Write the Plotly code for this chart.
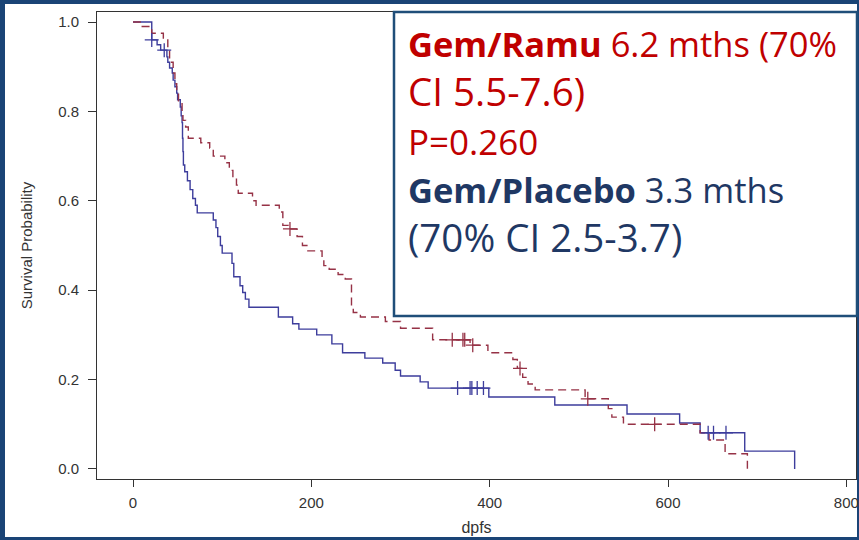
import plotly.graph_objects as go

# ---- data ----
placebo_time = [0, 21, 27, 31, 38, 39, 41, 44, 45, 47, 49, 50, 53, 54, 55, 55.5, 56, 56.5, 58, 61, 64, 67, 70, 72,
                90, 93, 95, 98, 100, 111, 113, 120, 123, 126, 130, 163, 179, 186, 206, 223, 235, 260, 280, 294,
                300, 322, 331, 399, 473, 554, 613, 636, 686, 742]
placebo_surv = [1.0, 0.96, 0.949, 0.937, 0.922, 0.91, 0.897, 0.886, 0.87, 0.855, 0.841, 0.826, 0.81, 0.79, 0.775,
                0.74, 0.71, 0.68, 0.665, 0.645, 0.625, 0.605, 0.59, 0.573, 0.557, 0.54, 0.52, 0.50, 0.483, 0.46,
                0.43, 0.41, 0.395, 0.38, 0.362, 0.34, 0.325, 0.313, 0.30, 0.28, 0.26, 0.248, 0.237, 0.221, 0.208,
                0.195, 0.181, 0.161, 0.143, 0.123, 0.103, 0.081, 0.040, 0.0]
placebo_cens_time = [21, 35, 364, 378, 380, 386, 393, 645, 651, 665]
placebo_cens_surv = [0.96, 0.937, 0.181, 0.181, 0.181, 0.181, 0.181, 0.081, 0.081, 0.081]

ramu_time = [0, 8, 21, 34, 39, 41, 45, 47, 49, 51, 55, 56, 59, 62, 76, 86, 90, 103, 108, 112, 116, 118, 134, 138,
             164, 168, 174, 184, 190, 195, 212, 214, 220, 230, 238, 245, 247, 255, 283, 300, 336, 378, 398, 426,
             431, 437, 443, 451, 507, 533, 537, 550, 636, 646, 664, 689]
ramu_surv = [1.0, 0.99, 0.975, 0.962, 0.937, 0.91, 0.886, 0.862, 0.84, 0.82, 0.80, 0.78, 0.765, 0.74, 0.73, 0.718,
             0.70, 0.685, 0.668, 0.65, 0.635, 0.617, 0.60, 0.59, 0.575, 0.545, 0.537, 0.52, 0.50, 0.488, 0.47,
             0.455, 0.447, 0.435, 0.425, 0.362, 0.35, 0.34, 0.33, 0.315, 0.289, 0.277, 0.26, 0.245, 0.225, 0.205,
             0.19, 0.177, 0.157, 0.135, 0.116, 0.10, 0.081, 0.065, 0.034, 0.0]
ramu_cens_time = [176, 358, 370, 372, 381, 434, 510, 585]
ramu_cens_surv = [0.537, 0.289, 0.289, 0.289, 0.277, 0.225, 0.157, 0.10]

x_ticks = [0, 200, 400, 600, 800]
y_ticks = [0.0, 0.2, 0.4, 0.6, 0.8, 1.0]

text_lines = [
    ("<b>Gem/Ramu</b> 6.2 mths (70%", "#c00000", 34.5),
    ("CI 5.5-7.6)", "#c00000", 38.5),
    ("P=0.260", "#c00000", 35),
    ("<b>Gem/Placebo</b> 3.3 mths", "#1f3864", 34.5),
    ("(70% CI 2.5-3.7)", "#1f3864", 38.5),
]

# ---- figure ----
W, H = 859, 540
L, R, T, B = 97, 3, 12, 61
pw, ph = W - L - R, H - T - B

def px_x(p):
    return (p - L) / pw

def px_y(q):
    return (H - B - q) / ph

RED = "#963246"
BLUE = "#3d3d9c"
FRAME = "#1a4476"

fig = go.Figure()
fig.add_trace(go.Scatter(x=placebo_time, y=placebo_surv, mode="lines", line_shape="hv",
                         line=dict(color=BLUE, width=1.4), name="Gem/Placebo", showlegend=False))
fig.add_trace(go.Scatter(x=ramu_time, y=ramu_surv, mode="lines", line_shape="hv",
                         line=dict(color=RED, width=1.4, dash="8px,5px"), name="Gem/Ramu", showlegend=False))
fig.add_trace(go.Scatter(x=placebo_cens_time, y=placebo_cens_surv, mode="markers",
                         marker=dict(symbol="cross-thin", size=10, line=dict(width=1.3, color=BLUE)),
                         showlegend=False))
fig.add_trace(go.Scatter(x=ramu_cens_time, y=ramu_cens_surv, mode="markers",
                         marker=dict(symbol="cross-thin", size=10, line=dict(width=1.3, color=RED)),
                         showlegend=False))

tickfont = dict(family="Liberation Sans, Arial, sans-serif", size=15, color="#333333")

fig.update_layout(
    width=W, height=H,
    margin=dict(l=L, r=R, t=T, b=B, autoexpand=False),
    paper_bgcolor=FRAME,
    plot_bgcolor="white",
    showlegend=False,
    xaxis=dict(range=[-40.4, 810.8], tickvals=x_ticks, ticks="outside", ticklen=7, tickcolor="#333",
               showline=True, linecolor="#333", linewidth=1, mirror=True, showgrid=False, zeroline=False,
               tickfont=tickfont, ticklabelstandoff=3,
               title=dict(text="dpfs", font=dict(family="Liberation Sans, Arial, sans-serif", size=16,
                                                   color="#333333"), standoff=11)),
    yaxis=dict(range=[-0.0224, 1.0224], tickvals=y_ticks, tickformat=".1f", ticks="outside", ticklen=8,
               tickcolor="#333", showline=True, linecolor="#333", linewidth=1, mirror=True, showgrid=False,
               zeroline=False, tickfont=tickfont, ticklabelstandoff=6,
               title=dict(text="Survival Probability",
                          font=dict(family="Liberation Sans, Arial, sans-serif", size=15, color="#333333"),
                          standoff=21)),
)

# white interior inside the dark blue frame
fig.add_shape(type="rect", xref="paper", yref="paper", layer="below",
              x0=px_x(5), x1=px_x(857), y0=px_y(537), y1=px_y(4),
              fillcolor="white", line=dict(width=0))
# text box
fig.add_shape(type="rect", xref="paper", yref="paper", layer="above",
              x0=px_x(394), x1=px_x(857), y0=px_y(316), y1=px_y(12),
              fillcolor="white", line=dict(width=2.5, color="#1f4e79"))

# one multi-line annotation; per-line size & colour via spans
box_text = "<br>".join(
    f'<span style="font-size:{size}px;color:{col}">{txt}</span>' for txt, col, size in text_lines
)
fig.add_annotation(xref="paper", yref="paper", x=px_x(406), y=px_y(141), xanchor="left", yanchor="middle",
                   text=box_text, showarrow=False, align="left",
                   font=dict(family="Open Sans, sans-serif", size=37.5, color="#c00000"))

fig.write_html("out.html")
